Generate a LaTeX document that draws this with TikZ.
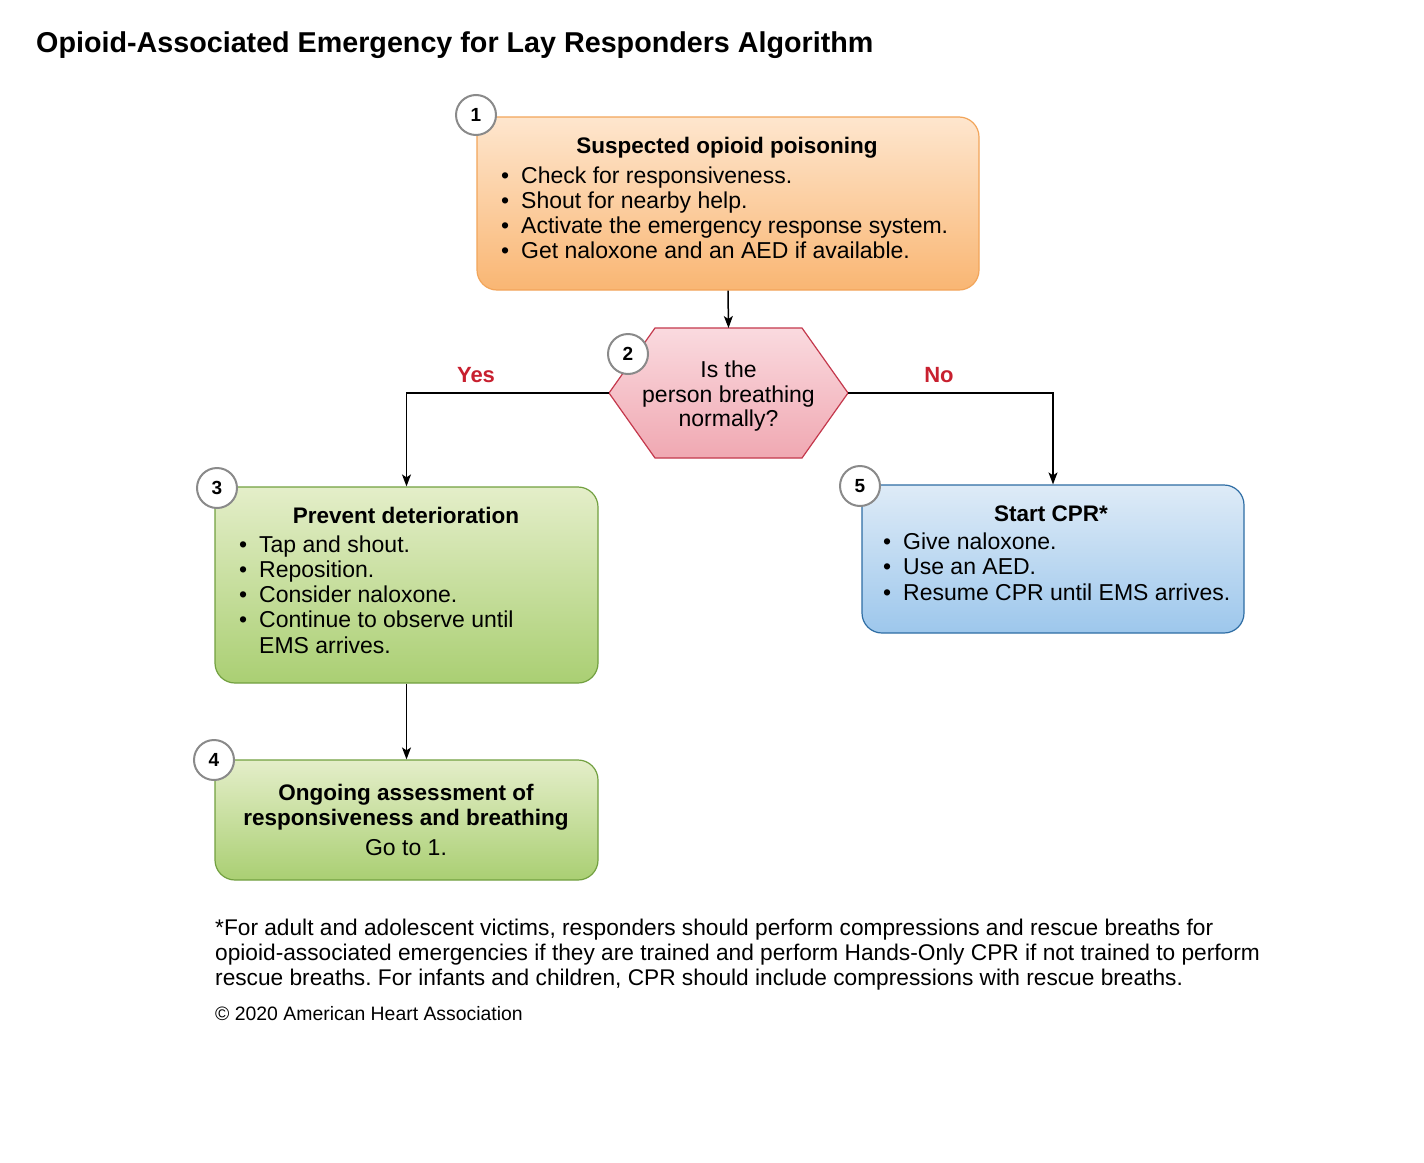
\documentclass[tikz,border=0pt]{standalone}
\usepackage{fontspec}
\setmainfont{Liberation Sans}
\usetikzlibrary{arrows.meta}
\frenchspacing

\definecolor{orangetop}{HTML}{FEE6CE}
\definecolor{orangebot}{HTML}{F9B673}
\definecolor{orangeline}{HTML}{F2A55A}
\definecolor{pinktop}{HTML}{FADADF}
\definecolor{pinkbot}{HTML}{F0A8B2}
\definecolor{pinkline}{HTML}{C4384C}
\definecolor{greentop}{HTML}{E4EEC9}
\definecolor{greenbot}{HTML}{AACF73}
\definecolor{greenline}{HTML}{72A040}
\definecolor{bluetop}{HTML}{DEEBF7}
\definecolor{bluebot}{HTML}{9DC7EC}
\definecolor{blueline}{HTML}{2E6DA4}
\definecolor{numgray}{HTML}{8A8A8A}
\definecolor{yesnored}{HTML}{C8202F}

\newcommand{\blt}{\llap{\textbullet\hspace{12pt}}}

\begin{document}
\begin{tikzpicture}[x=1pt,y=-1pt,
    box/.style={draw, rounded corners=20pt, line width=1.2pt, inner sep=0pt},
    head/.style={anchor=base, font=\fontsize{22.5}{27}\selectfont\bfseries},
    item/.style={anchor=base west, inner sep=0pt, font=\fontsize{23}{27}\selectfont},
    plain/.style={anchor=base, font=\fontsize{23}{27}\selectfont},
    num/.style={circle, draw=numgray, line width=2pt, fill=white, minimum size=40pt,
      inner sep=0pt, font=\fontsize{19}{19}\selectfont\bfseries},
    arr/.style={-{Stealth[length=12pt,width=9pt,inset=3pt]}, line width=1.5pt},
    yesno/.style={anchor=base, text=yesnored, font=\fontsize{22}{26}\selectfont\bfseries},
    foot/.style={anchor=base west, inner sep=0pt, font=\fontsize{22.7}{26}\selectfont},
  ]

  % Rahmen
  \path[use as bounding box, fill=white] (0,0) rectangle (1424,1162);

  % Titel
  \node[anchor=base west, inner sep=0pt, font=\fontsize{28.7}{32}\selectfont\bfseries] (title) at (36,52)
    {Opioid-Associated Emergency for Lay Responders Algorithm};

  % 1: Verdacht
  \node[box, draw=orangeline, top color=orangetop, bottom color=orangebot,
    minimum width=502pt, minimum height=173pt] (susp) at (728,203.5) {};
  \node[head] (susp-t) at (727,153) {Suspected opioid poisoning};
  \foreach \txt [count=\i from 0] in {Check for responsiveness., Shout for nearby help.,
      Activate the emergency response system., Get naloxone and an AED if available.}
    \node[item] (susp-\i) at (521,{183+25.3*\i}) {\blt\txt};

  % 2: Entscheidung
  \draw[pinkline, line width=1.2pt, top color=pinktop, bottom color=pinkbot]
    (609,393) -- (655,328) -- (802,328) -- (848,393) -- (802,458) -- (655,458) -- cycle;
  \coordinate (hexN) at (728.5,328);
  \coordinate (hexW) at (609,393);
  \coordinate (hexE) at (848,393);
  \node[plain] (brth-0) at (728.5,377) {Is the};
  \node[plain] (brth-1) at (728.5,402) {person breathing};
  \node[plain] (brth-2) at (728.5,426) {normally?};

  % 3: Verschlechterung verhindern
  \node[box, draw=greenline, top color=greentop, bottom color=greenbot,
    minimum width=383pt, minimum height=196pt] (prev) at (406.5,585) {};
  \node[head] (prev-t) at (406,523) {Prevent deterioration};
  \foreach \txt [count=\i from 0] in {\blt Tap and shout., \blt Reposition.,
      \blt Consider naloxone., \blt Continue to observe until, EMS arrives.}
    \node[item] (prev-\i) at (259,{552+25.3*\i}) {\txt};

  % 4: Weitere Beurteilung
  \node[box, draw=greenline, top color=greentop, bottom color=greenbot,
    minimum width=383pt, minimum height=120pt] (ongo) at (406.5,820) {};
  \node[head] (ongo-t1) at (406,800) {Ongoing assessment of};
  \node[head] (ongo-t2) at (406,825) {responsiveness and breathing};
  \node[plain] (ongo-go) at (406,855) {Go to 1.};

  % 5: HLW
  \node[box, draw=blueline, top color=bluetop, bottom color=bluebot,
    minimum width=382pt, minimum height=148pt] (cpr) at (1053,559) {};
  \node[head] (cpr-t) at (1051,521) {Start CPR*};
  \foreach \txt [count=\i from 0] in {Give naloxone., Use an AED., Resume CPR until EMS arrives.}
    \node[item] (cpr-\i) at (903,{549+25.5*\i}) {\blt\txt};

  % Pfeile
  \draw[arr] (susp.south) -- (hexN);
  \draw[arr] (hexW) -| (prev.north);
  \draw[arr] (hexE) -| (cpr.north);
  \draw[arr] (prev.south) -- (ongo.north);
  \node[yesno] (yes) at (476,382) {Yes};
  \node[yesno] (no) at (939,382) {No};

  % Nummern
  \node[num] (n1) at (476,115) {1};
  \node[num] (n2) at (628,354) {2};
  \node[num] (n3) at (217,488) {3};
  \node[num] (n4) at (214,760) {4};
  \node[num] (n5) at (860,486) {5};

  % Fussnote
  \node[foot] (fn1) at (215,935) {*For adult and adolescent victims, responders should perform compressions and rescue breaths for};
  \node[foot] (fn2) at (215,960) {opioid-associated emergencies if they are trained and perform Hands-Only CPR if not trained to perform};
  \node[foot] (fn3) at (215,985) {rescue breaths. For infants and children, CPR should include compressions with rescue breaths.};
  \node[anchor=base west, inner sep=0pt, font=\fontsize{19.4}{22}\selectfont] (copy) at (215,1020) {© 2020 American Heart Association};

\end{tikzpicture}
\end{document}
